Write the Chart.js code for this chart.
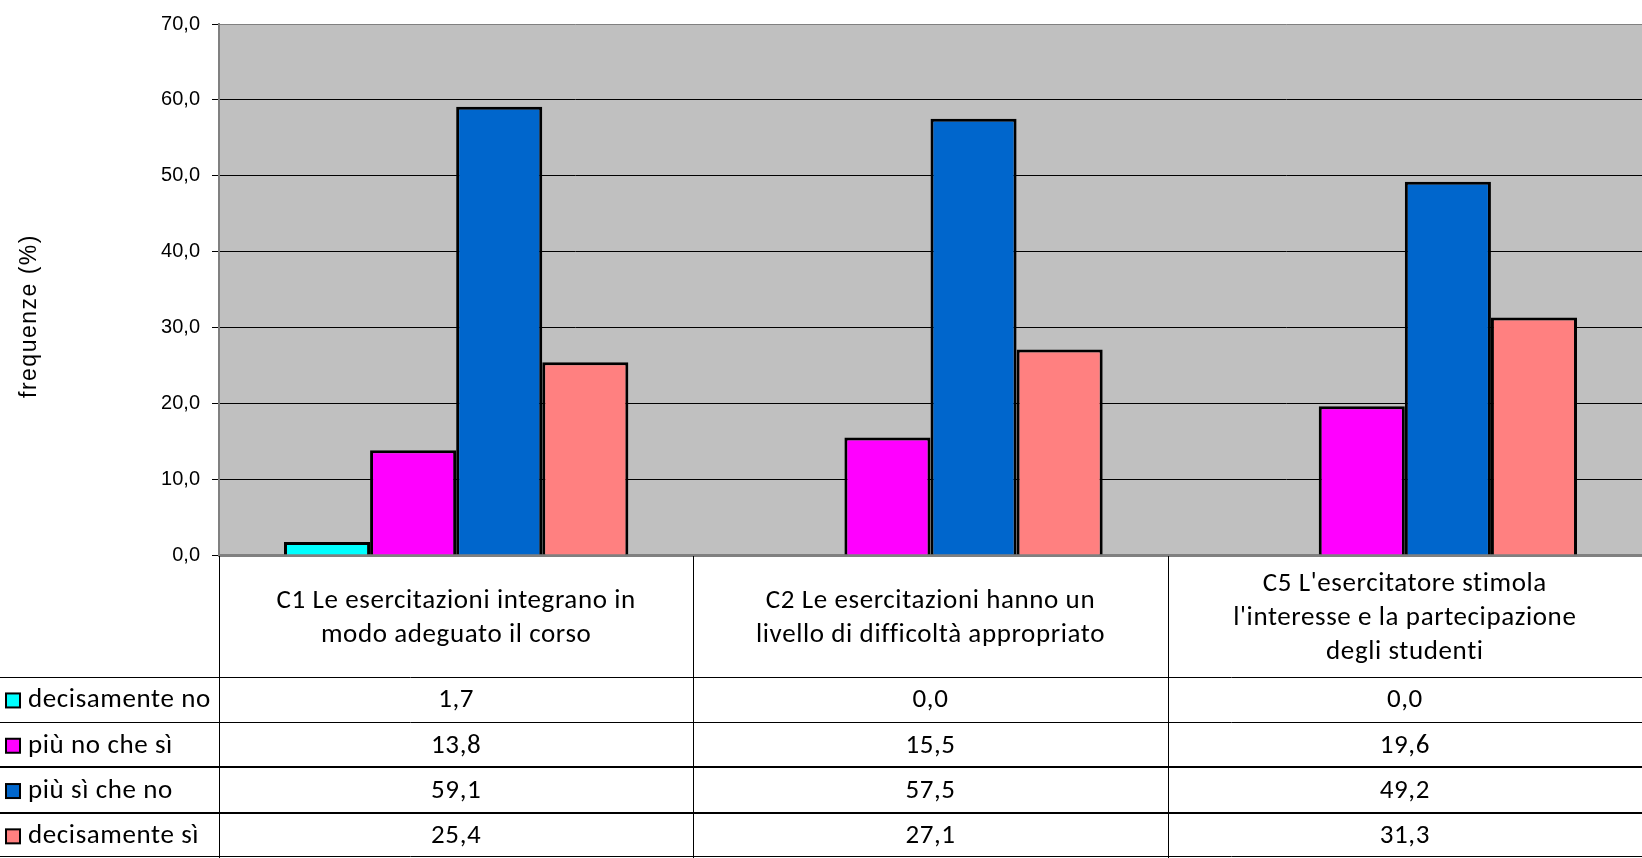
<!DOCTYPE html>
<html>
<head>
<meta charset="utf-8">
<script src="https://cdn.jsdelivr.net/npm/chart.js@4.4.1/dist/chart.umd.min.js"></script>
<style>
html,body{margin:0;padding:0;background:#fff;}
#wrap{width:1642px;height:858px;}
</style>
</head>
<body>
<div id="wrap"><canvas id="c" width="1642" height="858"></canvas></div>
<script>
const categories = [
  ["C1 Le esercitazioni integrano in", "modo adeguato il corso"],
  ["C2 Le esercitazioni hanno un", "livello di difficoltà appropriato"],
  ["C5 L'esercitatore stimola", "l'interesse e la partecipazione", "degli studenti"]
];
const seriesNames = ["decisamente no", "più no che sì", "più sì che no", "decisamente sì"];
const decisamenteNo = [1.7, 0.0, 0.0];
const piuNoCheSi = [13.8, 15.5, 19.6];
const piuSiCheNo = [59.1, 57.5, 49.2];
const decisamenteSi = [25.4, 27.1, 31.3];
const seriesColors = ["#00FFFF", "#FF00FF", "#0066CC", "#FF8080"];
const yTicks = [0, 10, 20, 30, 40, 50, 60, 70];

const seriesValues = [decisamenteNo, piuNoCheSi, piuSiCheNo, decisamenteSi];
const fmt = v => v.toFixed(1).replace('.', ',');
const TABLE_FONT = "'Carlito', 'Lato', sans-serif";

const tablePlugin = {
  id: 'tablePlugin',
  beforeDraw(chart) {
    const ca = chart.chartArea, ctx = chart.ctx;
    ctx.save();
    ctx.fillStyle = '#C0C0C0';
    ctx.fillRect(ca.left, ca.top, ca.right - ca.left, ca.bottom - ca.top);
    ctx.restore();
  },
  afterDraw(chart) {
    const ctx = chart.ctx, ca = chart.chartArea, xs = chart.scales.x;
    const W = chart.width, H = chart.height;
    const n = categories.length;
    const colW = (xs.right - xs.left) / n;
    const rowH = 45.3;
    const headerBottom = H - 4 * rowH;
    ctx.save();
    ctx.strokeStyle = '#000';
    for (let r = 0; r <= 4; r++) {
      const y = Math.round(headerBottom + r * rowH);
      const thick = (r === 2 || r === 3);
      ctx.lineWidth = thick ? 2 : 1;
      ctx.beginPath();
      if (r === 4) { ctx.moveTo(0, H - 1.5); ctx.lineTo(W, H - 1.5); }
      else { ctx.moveTo(0, thick ? y : y + 0.5); ctx.lineTo(W, thick ? y : y + 0.5); }
      ctx.stroke();
    }
    ctx.lineWidth = 1;
    for (let i = 0; i < n; i++) {
      const x = Math.round(xs.getPixelForValue(i) - colW / 2) + 0.5;
      ctx.beginPath();
      ctx.moveTo(x, ca.bottom + 1);
      ctx.lineTo(x, H);
      ctx.stroke();
    }
    ctx.fillStyle = '#000';
    ctx.textBaseline = 'middle';
    ctx.font = "27px " + TABLE_FONT;
    ctx.letterSpacing = '0.6px';
    const centerText = (t, cx, y) => {
      const w = ctx.measureText(t).width;
      ctx.textAlign = 'left';
      ctx.fillText(t, cx - w / 2, y);
    };
    const headMid = (ca.bottom + headerBottom) / 2 + 2;
    const lineH = 34;
    categories.forEach((lines, i) => {
      const cx = xs.getPixelForValue(i);
      const y0 = headMid - (lines.length - 1) * lineH / 2;
      lines.forEach((t, k) => centerText(t, cx, y0 + k * lineH));
    });
    seriesNames.forEach((name, r) => {
      const yMid = headerBottom + r * rowH + rowH / 2 + 1;
      ctx.fillStyle = seriesColors[r];
      ctx.fillRect(6, yMid - 7, 14, 14);
      ctx.strokeStyle = '#000';
      ctx.lineWidth = 2;
      ctx.strokeRect(6, yMid - 7, 14, 14);
      ctx.fillStyle = '#000';
      ctx.textAlign = 'left';
      ctx.fillText(name, 28, yMid);
      seriesValues[r].forEach((v, i) => centerText(fmt(v), xs.getPixelForValue(i), yMid));
    });
    ctx.save();
    ctx.translate(30, 316);
    ctx.rotate(-Math.PI / 2);
    ctx.font = "23px 'Liberation Sans', Arial, sans-serif";
    ctx.letterSpacing = '1.5px';
    ctx.textAlign = 'left';
    ctx.textBaseline = 'middle';
    const tw = ctx.measureText('frequenze (%)').width;
    ctx.fillText('frequenze (%)', -tw / 2, 0);
    ctx.restore();
    ctx.restore();
  }
};

new Chart(document.getElementById('c'), {
  type: 'bar',
  data: {
    labels: categories.map(c => c.join(' ')),
    datasets: seriesNames.map((name, i) => ({
      label: name,
      data: seriesValues[i],
      backgroundColor: seriesColors[i],
      borderColor: '#000',
      borderWidth: 3,
      borderSkipped: 'bottom',
      categoryPercentage: 0.726,
      barPercentage: 1.0
    }))
  },
  options: {
    responsive: false,
    animation: false,
    devicePixelRatio: 1,
    layout: { padding: { top: 23, left: 0, right: 0, bottom: 0 } },
    plugins: { legend: { display: false }, tooltip: { enabled: false } },
    scales: {
      x: {
        grid: { display: false },
        border: { display: true, color: '#808080', width: 3 },
        ticks: { display: false },
        afterFit: s => { s.height = 303; }
      },
      y: {
        min: 0, max: 70,
        afterBuildTicks: s => { s.ticks = yTicks.map(v => ({ value: v })); },
        afterFit: s => { s.width = 219; },
        grid: {
          color: c => (c.tick && (c.tick.value === 70)) ? '#808080' : '#000',
          lineWidth: 1,
          tickLength: 7,
          tickColor: '#000',
          drawTicks: true
        },
        border: { display: true, color: '#808080', width: 2 },
        ticks: {
          padding: 12,
          color: '#000',
          font: { family: "'Liberation Sans', Arial, sans-serif", size: 20 },
          callback: v => fmt(v)
        },
        title: { display: false }
      }
    }
  },
  plugins: [tablePlugin]
});
</script>
</body>
</html>
